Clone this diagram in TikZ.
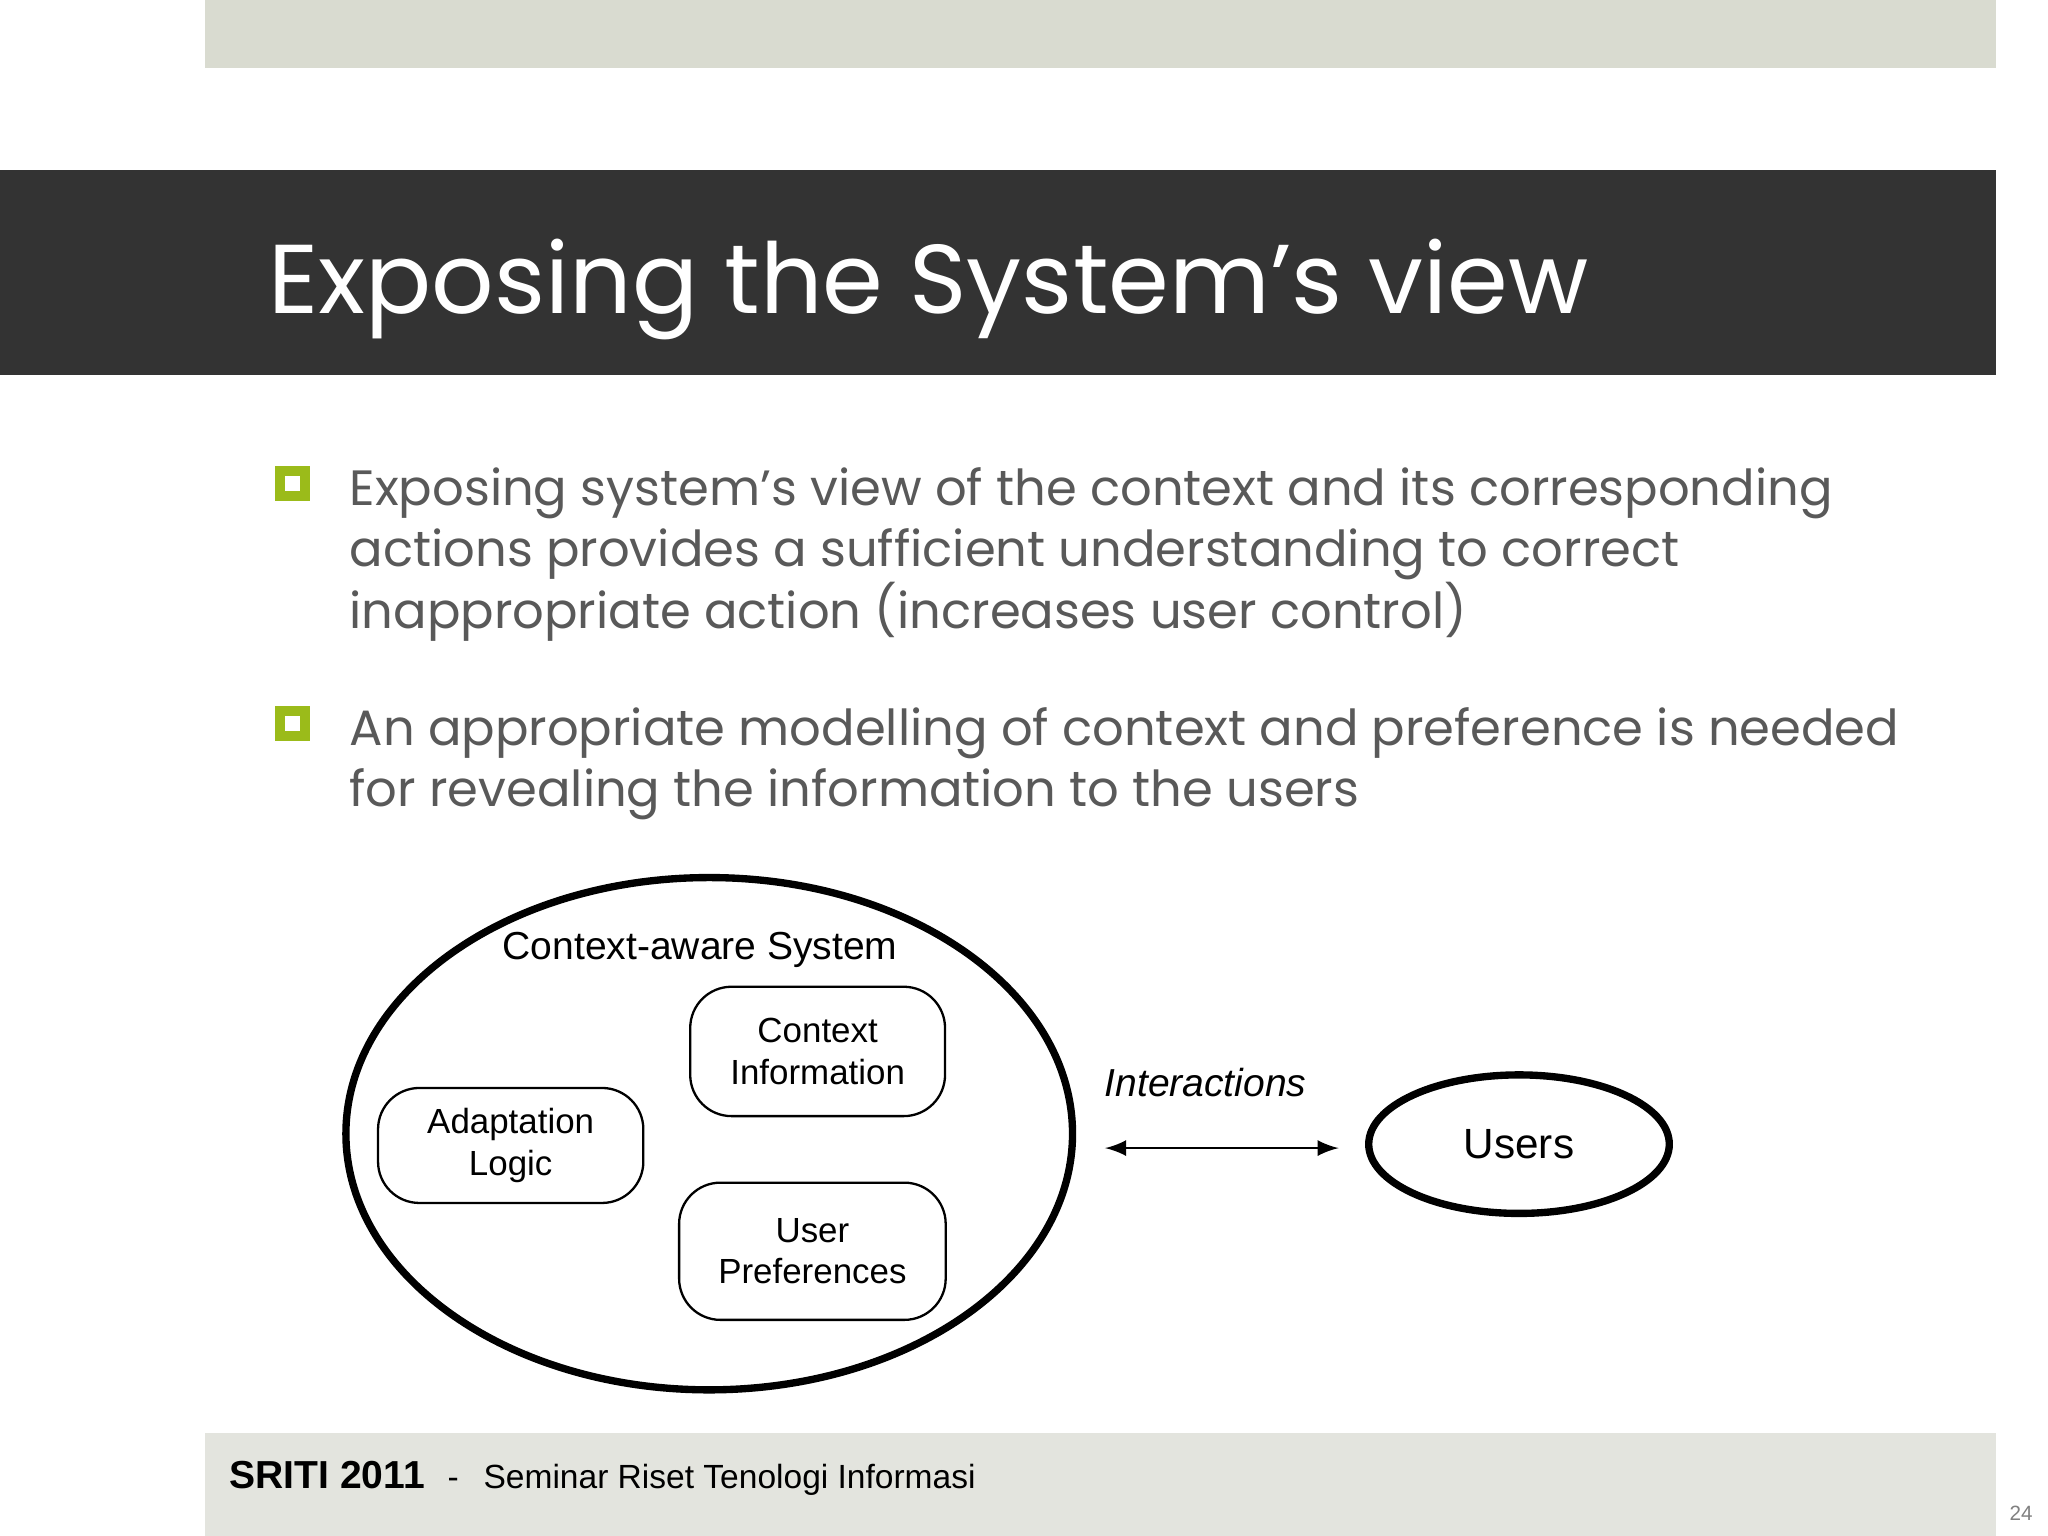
\documentclass[tikz,border=0pt]{standalone}
\usepackage{fontspec}
\usetikzlibrary{shapes.geometric}
\setmainfont{Liberation Sans}
\newfontfamily\titlefont{Poppins}
\definecolor{topbar}{HTML}{D9DBD0}
\definecolor{darkbar}{HTML}{333333}
\definecolor{footbar}{HTML}{E3E4DE}
\definecolor{bodygray}{HTML}{595959}
\definecolor{bulletgreen}{HTML}{9BBB1A}
\begin{document}
\begin{tikzpicture}[x=0.01cm,y=-0.01cm,
  rbox/.style={draw,rounded corners=9pt,line width=0.5pt,align=center,font=\fontsize{7.6}{9}\selectfont,inner sep=0pt},
  bul/.style={draw=bulletgreen,line width=2.2pt,minimum size=0.19cm,inner sep=0pt},
  btext/.style={anchor=north west,align=left,text=bodygray,font=\titlefont\fontsize{10.8}{13.4}\selectfont,inner sep=0pt}]
\useasboundingbox (0,0) rectangle (1568,1176);
\fill[topbar] (157,0) rectangle (1528,52);
\fill[darkbar] (0,130) rectangle (1528,287);
\node[anchor=base west,text=white,font=\titlefont\fontsize{21.3}{24}\selectfont,inner sep=0pt] (title) at (205,240) {Exposing the System’s view};
\node[bul] (b1) at (224,370) {};
\node[bul] (b2) at (224,554) {};
\node[btext] (t1) at (267,357) {Exposing system’s view of the context and its corresponding\\actions provides a sufficient understanding to correct\\inappropriate action (increases user control)};
\node[btext] (t2) at (267,541) {An appropriate modelling of context and preference is needed\\for revealing the information to the users};
\node[draw,ellipse,line width=1.6pt,minimum width=5.56cm,minimum height=3.92cm] (sys) at (543,868) {};
\node[font=\fontsize{8.5}{10}\selectfont] (syslab) at (536,727) {Context-aware System};
\node[rbox,minimum width=1.95cm,minimum height=0.99cm] (ci) at (626,805) {Context\\Information};
\node[rbox,minimum width=2.03cm,minimum height=0.88cm] (al) at (391,877) {Adaptation\\Logic};
\node[rbox,minimum width=2.04cm,minimum height=1.05cm] (up) at (622,958) {User\\Preferences};
\node[draw,ellipse,line width=1.6pt,minimum width=2.3cm,minimum height=1.06cm,font=\fontsize{9.2}{11}\selectfont] (users) at (1163,876) {Users};
\coordinate (a1) at (846,879);
\coordinate (a2) at (1025,879);
\node[font=\itshape\fontsize{8.5}{10}\selectfont] (inter) at (923,829) {Interactions};
\draw[<->,>=latex,line width=0.6pt] (a1) -- (a2);
\fill[footbar] (157,1097) rectangle (1528,1176);
\node[anchor=base west,font=\bfseries\fontsize{8.5}{10}\selectfont,inner sep=0pt] (f1) at (175,1140) {SRITI 2011};
\node[anchor=base west,font=\fontsize{7.3}{9}\selectfont,inner sep=0pt] (f2) at (342,1140) {-\hspace{0.19cm}Seminar Riset Tenologi Informasi};
\node[anchor=base east,text=gray,font=\fontsize{4.5}{5}\selectfont,inner sep=0pt] (pg) at (1557,1164) {24};
\end{tikzpicture}
\end{document}
